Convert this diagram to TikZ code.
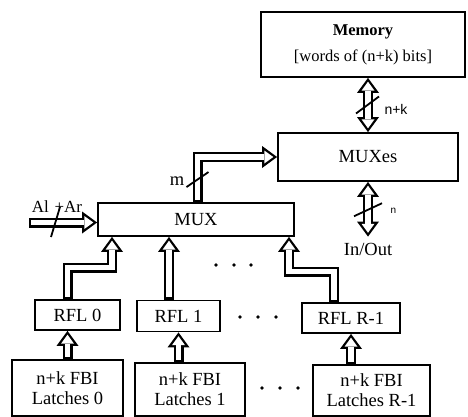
\documentclass[tikz,border=0pt]{standalone}
\usepackage{fontspec}
\setmainfont{Liberation Serif}
\newfontfamily\lblsans{Liberation Sans}
\usetikzlibrary{arrows.meta}
\tikzstyle{blk}=[draw, line width=1.8pt, inner sep=0pt, align=center,% plain box
font=\fontsize{18.5}{20}\selectfont]
% hollow bus: thick black stroke, white core drawn on top
\tikzstyle{bus}=[line width=10pt, -{Triangle[length=15pt, width=22pt, line width=0pt]},
postaction={draw=white, line width=5.5pt, shorten <=2.2pt, shorten >=3.8pt,
-{Triangle[length=9pt, width=13pt, line width=0pt]}}]
\tikzstyle{busboth}=[line width=10pt, {Triangle[length=15pt, width=22pt, line width=0pt]}-{Triangle[length=15pt, width=22pt, line width=0pt]},
postaction={draw=white, line width=5.5pt, shorten <=3.8pt, shorten >=3.8pt,
{Triangle[length=9pt, width=13pt, line width=0pt]}-{Triangle[length=9pt, width=13pt, line width=0pt]}}]
\tikzstyle{slash}=[line width=1.8pt]
\tikzstyle{txt}=[inner sep=1pt, font=\fontsize{18.5}{20}\selectfont]

\begin{document}
\begin{tikzpicture}[x=1pt, y=-1pt]
\useasboundingbox (0,0) rectangle (468,417);
\node[blk, minimum width=204pt, minimum height=65pt, font=\fontsize{16.5}{26}\selectfont] (mem) at (363,44.5) {\textbf{Memory}\\{[words of (n+k) bits]}};
\node[blk, minimum width=180pt, minimum height=48pt] (muxes) at (368,157) {MUXes};
\node[blk, minimum width=196pt, minimum height=33pt] (mux) at (196,219.5) {MUX};
\node[txt] (io) at (368,249) {In/Out};
\node[blk, minimum width=85pt, minimum height=30pt] (rfl0) at (77.5,315) {RFL 0};
\node[blk, minimum width=83pt, minimum height=31pt] (rfl1) at (178.5,316) {RFL 1};
\node[blk, minimum width=98pt, minimum height=30pt] (rflr) at (351,318) {RFL R-1};
\node[blk, minimum width=111pt, minimum height=56pt] (lat0) at (67.5,388) {n+k FBI\\Latches 0};
\node[blk, minimum width=110pt, minimum height=53pt] (lat1) at (190,389.5) {n+k FBI\\Latches 1};
\node[blk, minimum width=117pt, minimum height=51pt] (latr) at (371.5,390.5) {n+k FBI\\Latches R-1};
\coordinate (ain) at (29,222.5);

% memory side
\draw[busboth] (mem.south -| muxes.north) -- coordinate (nk) (muxes.north);
\draw[slash] ([shift={(-12,8.5)}]nk) -- ++(23,-17);
\node[font=\lblsans\fontsize{14}{14}\selectfont, anchor=west] (nklbl) at ([xshift=13pt,yshift=-4pt]nk) {n+k};
\draw[busboth] (muxes.south) -- coordinate (nn) ([yshift=5pt]io.north);
\draw[slash] ([shift={(-14,7)}]nn) -- ++(28,-13);
\node[font=\lblsans\fontsize{10}{10}\selectfont, anchor=west] (nlbl) at ([xshift=19pt,yshift=-2pt]nn) {n};

% mux output and input
\draw[bus] ([xshift=1.5pt]mux.north) |- coordinate[pos=0.25] (mm) (muxes.west);
\draw[slash] ([shift={(-11,7.5)}]mm) -- ++(22,-15);
\node[txt, anchor=east] (mlbl) at ([xshift=-12pt,yshift=-2pt]mm) {m};
\draw[bus] (ain) -- (ain -| mux.west);
\draw[slash] (51,237) -- (60,207);
\node[txt, font=\fontsize{17}{17}\selectfont] (alar) at (57,207) {Al\,\,+Ar};

% register files into the mux
\draw[bus] ([xshift=-10pt]rfl0.north) -- ++(0,-31.5) -| ([xshift=-84pt]mux.south);
\draw[bus] ([xshift=-9.5pt]rfl1.north) -- ([xshift=-9.5pt]rfl1.north |- mux.south);
\draw[bus] ([xshift=-17pt]rflr.north) -- ++(0,-30.5) -| ([xshift=93pt]mux.south);

% latches into the register files
\draw[bus] (lat0.north) -- (lat0.north |- rfl0.south);
\draw[bus] (rfl1.south |- lat1.north) -- (rfl1.south);
\draw[bus] (rflr.south |- latr.north) -- (rflr.south);

% dots
\fill (216,265) circle (1.8);
\fill (234,265) circle (1.8);
\fill (251,265) circle (1.8);
\fill (240,317) circle (1.8);
\fill (258,317) circle (1.8);
\fill (276,317) circle (1.8);
\fill (262,388) circle (1.8);
\fill (280,388) circle (1.8);
\fill (298,388) circle (1.8);
\end{tikzpicture}
\end{document}
